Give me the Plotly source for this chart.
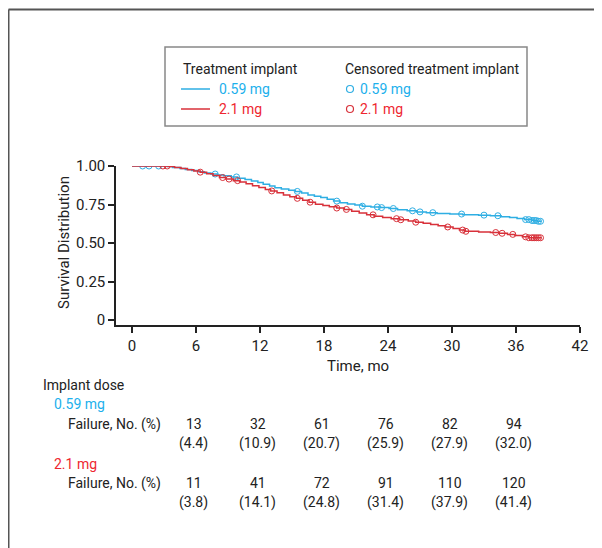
import numpy as np
import plotly.graph_objects as go

# ---------------- data ----------------
blue_t = [0, 3.3, 3.8, 4.5, 5.0, 5.6, 6.2, 6.8, 7.4, 8.0, 8.6, 9.3, 9.9, 10.6, 11.2, 11.8,
          12.3, 12.9, 13.4, 14.0, 14.7, 15.3, 15.9, 16.5, 17.1, 17.7, 18.3, 18.9, 19.5,
          20.2, 20.9, 21.6, 22.4, 23.3, 24.1, 24.9, 25.8, 26.7, 27.6, 28.6, 29.8, 31.0,
          32.5, 33.6, 34.6, 35.4, 36.1, 36.8, 37.5, 38.0, 38.4]
blue_s = [1.0, 0.997, 0.990, 0.984, 0.977, 0.970, 0.963, 0.955, 0.948, 0.942, 0.936, 0.929,
          0.921, 0.912, 0.903, 0.893, 0.882, 0.870, 0.858, 0.850, 0.842, 0.835, 0.824, 0.812,
          0.803, 0.795, 0.784, 0.772, 0.762, 0.754, 0.746, 0.739, 0.734, 0.730, 0.724, 0.716,
          0.709, 0.702, 0.697, 0.692, 0.688, 0.684, 0.681, 0.677, 0.671, 0.665, 0.659, 0.652,
          0.646, 0.641, 0.641]
blue_cens = [1.0, 1.6, 2.5, 7.8, 9.8, 15.5, 19.2, 21.6, 23.0, 23.4, 24.5, 26.3, 27.0, 28.2,
             30.9, 33.0, 34.3, 36.9, 37.2, 37.5, 37.7, 37.9, 38.1, 38.3]

red_t = [0, 3.4, 4.0, 4.6, 5.2, 5.8, 6.4, 7.0, 7.6, 8.2, 8.8, 9.5, 10.1, 10.7, 11.3, 11.9,
         12.5, 13.0, 13.6, 14.2, 14.8, 15.4, 16.0, 16.6, 17.2, 17.9, 18.5, 19.2, 19.9, 20.6,
         21.3, 22.0, 22.7, 23.5, 24.3, 25.1, 25.9, 26.6, 27.3, 28.0, 28.7, 29.4, 30.1, 30.7,
         31.2, 32.5, 33.6, 34.4, 35.2, 35.9, 36.6, 37.2, 38.4]
red_s = [1.0, 0.997, 0.990, 0.983, 0.976, 0.968, 0.960, 0.950, 0.938, 0.925, 0.915, 0.905,
         0.896, 0.885, 0.872, 0.860, 0.848, 0.838, 0.826, 0.812, 0.800, 0.790, 0.778, 0.765,
         0.752, 0.743, 0.736, 0.727, 0.718, 0.706, 0.694, 0.683, 0.673, 0.665, 0.658, 0.651,
         0.643, 0.635, 0.628, 0.620, 0.612, 0.604, 0.594, 0.584, 0.576, 0.572, 0.568, 0.563,
         0.556, 0.548, 0.540, 0.534, 0.534]
red_cens = [2.9, 3.3, 6.4, 8.5, 9.1, 9.9, 13.1, 15.5, 16.7, 19.2, 20.1, 22.6, 24.8, 25.2,
            26.6, 29.6, 31.0, 31.3, 34.1, 34.7, 35.7, 36.9, 37.2, 37.5, 37.7, 37.9, 38.1, 38.3]

table_times = [6, 12, 18, 24, 30, 36]
fail_059_n = [13, 32, 61, 76, 82, 94]
fail_059_pct = ["4.4", "10.9", "20.7", "25.9", "27.9", "32.0"]
fail_21_n = [11, 41, 72, 91, 110, 120]
fail_21_pct = ["3.8", "14.1", "24.8", "31.4", "37.9", "41.4"]

x_ticks = [0, 6, 12, 18, 24, 30, 36, 42]
y_ticks = [0, 0.25, 0.5, 0.75, 1.0]
y_ticklabels = ["0", "0.25", "0.50", "0.75", "1.00"]

# ---------------- style ----------------
BLUE = "#2eaee3"
RED = "#d8313a"
BLUE_TXT = "#1cb0ec"
RED_TXT = "#ee2630"
FONT = "Roboto, sans-serif"
OFF = 8  # page body margin
W, H = 602 - OFF, 548 - OFF
L, R, T, B = 116, 580, 166, 325


def xp(px):
    return (px - L) / (R - L)


def yp(py):
    return (B - py) / (B - T)


def surv_at(times, surv, tc):
    idx = np.searchsorted(np.array(times), np.array(tc), side="right") - 1
    return np.array(surv)[idx]


fig = go.Figure()
for t, s, c, col, name in [(blue_t, blue_s, blue_cens, BLUE, "0.59 mg"),
                           (red_t, red_s, red_cens, RED, "2.1 mg")]:
    fig.add_trace(go.Scatter(x=t, y=s, mode="lines", line=dict(color=col, width=1.5, shape="hv"),
                             name=name, showlegend=False))
    fig.add_trace(go.Scatter(x=c, y=surv_at(t, s, c), mode="markers",
                             marker=dict(symbol="circle-open", size=6, color=col, line=dict(width=1)),
                             showlegend=False))

ann = []
ann.append(dict(x=xp(181), y=yp(69), text="Treatment implant", xanchor="left", yanchor="middle",
                font=dict(color="#222", size=14)))
ann.append(dict(x=xp(343), y=yp(69), text="Censored treatment implant", xanchor="left",
                yanchor="middle", font=dict(color="#222", size=14)))
ann.append(dict(x=xp(217), y=yp(89), text="0.59 mg", xanchor="left", yanchor="middle",
                font=dict(color=BLUE_TXT, size=14)))
ann.append(dict(x=xp(217), y=yp(109), text="2.1 mg", xanchor="left", yanchor="middle",
                font=dict(color=RED_TXT, size=14)))
ann.append(dict(x=xp(358), y=yp(89), text="0.59 mg", xanchor="left", yanchor="middle",
                font=dict(color=BLUE_TXT, size=14)))
ann.append(dict(x=xp(358), y=yp(109), text="2.1 mg", xanchor="left", yanchor="middle",
                font=dict(color=RED_TXT, size=14)))
ann.append(dict(x=xp(64), y=yp(243), text="Survival Distribution", textangle=-90,
                xanchor="center", yanchor="middle", font=dict(color="#222", size=15)))
ann.append(dict(x=xp(358), y=yp(366), text="Time, mo", xanchor="center", yanchor="middle",
                font=dict(color="#222", size=15)))
ann.append(dict(x=xp(41), y=yp(385), text="Implant dose", xanchor="left", yanchor="middle",
                font=dict(color="#222", size=14)))
ann.append(dict(x=xp(52), y=yp(404), text="0.59 mg", xanchor="left", yanchor="middle",
                font=dict(color=BLUE_TXT, size=14)))
ann.append(dict(x=xp(66), y=yp(424), text="Failure, No. (%)", xanchor="left", yanchor="middle",
                font=dict(color="#222", size=14)))
ann.append(dict(x=xp(52), y=yp(464), text="2.1 mg", xanchor="left", yanchor="middle",
                font=dict(color=RED_TXT, size=14)))
ann.append(dict(x=xp(66), y=yp(483), text="Failure, No. (%)", xanchor="left", yanchor="middle",
                font=dict(color="#222", size=14)))
for tt, n1, p1, n2, p2 in zip(table_times, fail_059_n, fail_059_pct, fail_21_n, fail_21_pct):
    for val, py in [(str(n1), 424), ("(" + p1 + ")", 443), (str(n2), 483), ("(" + p2 + ")", 502)]:
        ann.append(dict(x=tt - 0.2, xref="x", y=yp(py), text=val, xanchor="center",
                        yanchor="middle", font=dict(color="#222", size=14)))
for a in ann:
    a.setdefault("xref", "paper")
    a["yref"] = "paper"
    a["showarrow"] = False

shapes = [
    dict(type="line", x0=xp(8.5), x1=xp(640), y0=yp(9.5), y1=yp(9.5),
         line=dict(color="#555", width=2)),
    dict(type="line", x0=xp(8.5), x1=xp(8.5), y0=yp(9.5), y1=yp(600),
         line=dict(color="#555", width=2)),
    dict(type="rect", x0=xp(165), x1=xp(527), y0=yp(126), y1=yp(47),
         line=dict(color="#888", width=1.5)),
    dict(type="line", x0=xp(181), x1=xp(210), y0=yp(89), y1=yp(89), line=dict(color=BLUE, width=1.5)),
    dict(type="line", x0=xp(181), x1=xp(210), y0=yp(109), y1=yp(109), line=dict(color=RED, width=1.5)),
    dict(type="circle", x0=xp(346.5), x1=xp(353.5), y0=yp(92.5), y1=yp(85.5),
         line=dict(color=BLUE, width=1.2)),
    dict(type="circle", x0=xp(346.5), x1=xp(353.5), y0=yp(112.5), y1=yp(105.5),
         line=dict(color=RED, width=1.2)),
]
for s in shapes:
    s["xref"] = "paper"
    s["yref"] = "paper"

x0_data = -(132 - L) / 64.1 * 6
fig.update_layout(
    width=W, height=H,
    margin=dict(l=L - OFF, r=602 - R, t=T - OFF, b=548 - B, pad=0),
    paper_bgcolor="white", plot_bgcolor="white",
    font=dict(family=FONT, color="#222", size=14),
    showlegend=False,
    annotations=ann, shapes=shapes,
    xaxis=dict(range=[x0_data, 42], tickvals=x_ticks, showline=True, linecolor="#222",
               linewidth=1.5, ticks="outside", ticklen=6, tickcolor="#222", tickwidth=1.5,
               showgrid=False, zeroline=False, tickfont=dict(size=15)),
    yaxis=dict(range=[-(B - 320) / 154, 1.0], tickvals=y_ticks, ticktext=y_ticklabels,
               showline=True, linecolor="#222", linewidth=1.5, ticks="outside", ticklen=6,
               tickcolor="#222", tickwidth=1.5, showgrid=False, zeroline=False,
               tickfont=dict(size=15)),
)
fig.write_html("out.html")
